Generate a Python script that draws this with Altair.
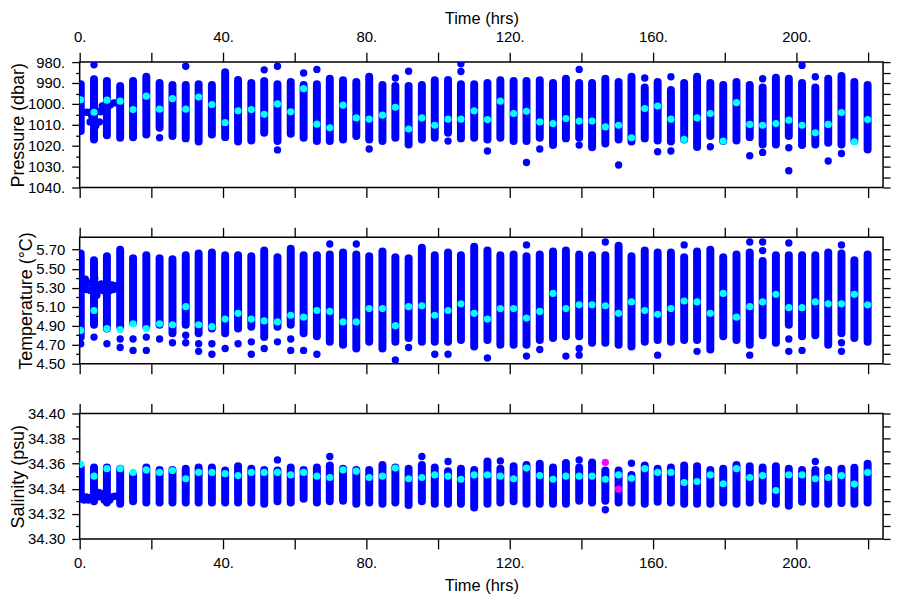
import altair as alt
import pandas as pd

# ---------------- data ----------------
TIME = [0.3, 4.0, 7.6, 11.3, 14.9, 18.6, 22.3, 25.9, 29.6, 33.2, 36.9, 40.6, 44.2, 47.9,
        51.5, 55.2, 58.9, 62.5, 66.2, 69.8, 73.5, 77.2, 80.8, 84.5, 88.1, 91.8, 95.5, 99.1,
        102.8, 106.4, 110.1, 113.8, 117.4, 121.1, 124.7, 128.4, 132.1, 135.7, 139.4, 143.0,
        146.7, 150.4, 154.0, 157.7, 161.3, 165.0, 168.7, 172.3, 176.0, 179.6, 183.3, 187.0,
        190.6, 194.3, 197.9, 201.6, 205.3, 208.9, 212.6, 216.2, 219.9]

# Pressure (dbar): column top, column bottom, cyan point
P_TOP = [990.6, 988.2, 989, 991.4, 989, 987, 990, 991, 991, 990.6, 991, 984.8, 988.6, 990,
         989, 990.6, 989.5, 991, 990.6, 988, 988.7, 989.5, 987, 991, 991.4, 991.4, 991, 988.7,
         988.6, 990.6, 990.6, 990, 988.7, 989, 989, 988.7, 990, 988, 990, 990, 988, 989.5,
         987, 992.2, 989.5, 993.3, 990, 987, 990, 991, 989.5, 991, 992.2, 987.5, 988, 990,
         992.2, 988, 986.7, 989.5, 991]
P_BOT = [1013, 1017, 1015, 1016.2, 1016, 1014.6, 1011.4, 1015.4, 1016.5, 1018, 1014.6, 1015.9,
         1018, 1017.5, 1013.8, 1017.8, 1014.3, 1016.2, 1017.8, 1017.8, 1017, 1015.4, 1017,
         1017.8, 1016.2, 1019.4, 1017, 1016.2, 1013.8, 1016.5, 1016.2, 1017, 1016.2, 1017.8,
         1017.8, 1016.2, 1019.7, 1016.5, 1016.2, 1020.7, 1019, 1017, 1018, 1016.5, 1017.5,
         1018, 1017, 1020.6, 1015.4, 1017.8, 1017.5, 1015.9, 1019.4, 1019.4, 1015.4, 1019.7,
         1019.4, 1018.6, 1019.4, 1017.8, 1021.8]
P_MID = [998, 1004, 998.2, 998.7, 1002.7, 996.3, 1002.5, 997.5, 1002.5, 996.7, 1000.3, 1009,
         1003.3, 1002.7, 1005, 1000, 1003.8, 992.7, 1009.7, 1011.4, 1000.6, 1006.7, 1007.3,
         1005.4, 1001.6, 1012, 1006.7, 1010.2, 1007.3, 1007.3, 1003.3, 1007.5, 998.7, 1004.6,
         1003.5, 1008.6, 1009.4, 1007, 1008.2, 1008.2, 1011, 1010.2, 1016.2, 1002.2, 1001,
         1007.3, 1017, 1006.7, 1004.6, 1017.8, 999.4, 1009.8, 1010.2, 1009.4, 1007.8, 1010.2,
         1013.8, 1009.8, 1004.1, 1018.1, 1007.5]
P_OUT_T = [4.0, 22.3, 29.6, 51.5, 55.2, 55.2, 62.5, 66.2, 80.8, 88.1, 91.8, 102.8, 106.4,
           106.4, 113.8, 124.7, 128.4, 139.4, 139.4, 150.4, 157.7, 161.3, 165.0, 165.0, 176.0,
           187.0, 190.6, 190.6, 197.9, 197.9, 201.6, 205.3, 208.9, 212.6,
           1.9, 2.9, 3.3, 4.8, 5.8, 2.9, 5.5, 6.3, 8.5, 9.5, 10.2, 7.0, 4.5]
P_OUT_V = [981.3, 1016.2, 982, 983.7, 982, 1022, 985.2, 983.5, 1021.6, 987.6, 984.4, 1017.8,
           980.8, 984.5, 1022.5, 1028, 1021.6, 983.5, 1019.7, 1029.2, 987.6, 1022.9, 987,
           1022.5, 1020.5, 1024.8, 988, 1023.2, 1021, 1032, 981.6, 987, 1027.3, 1023.7,
           1004, 1004, 1005.5, 1003.5, 1003.8, 1008.6, 1008.6, 1001, 1000.5, 999.5, 999.5,
           1002, 1010.5]

# Temperature (deg C)
T_TOP = [5.66, 5.59, 5.63, 5.70, 5.61, 5.64, 5.61, 5.60, 5.64, 5.66, 5.67, 5.64, 5.64, 5.63,
         5.69, 5.62, 5.71, 5.64, 5.64, 5.65, 5.67, 5.65, 5.63, 5.68, 5.62, 5.61, 5.72, 5.64,
         5.67, 5.64, 5.73, 5.69, 5.64, 5.65, 5.63, 5.65, 5.68, 5.69, 5.65, 5.64, 5.64, 5.74,
         5.63, 5.69, 5.67, 5.67, 5.62, 5.68, 5.70, 5.62, 5.65, 5.67, 5.58, 5.64, 5.64, 5.64,
         5.64, 5.67, 5.66, 5.59, 5.65]
T_BOT = [4.78, 4.91, 4.87, 4.89, 4.93, 4.89, 4.91, 4.82, 4.91, 4.82, 4.87, 4.82, 4.87, 4.89,
         4.78, 4.89, 4.91, 4.82, 4.79, 4.73, 4.70, 4.66, 4.73, 4.66, 4.73, 4.77, 4.73, 4.73,
         4.73, 4.75, 4.68, 4.75, 4.70, 4.70, 4.70, 4.75, 4.77, 4.79, 4.79, 4.72, 4.72, 4.70,
         4.68, 4.73, 4.75, 4.73, 4.75, 4.75, 4.65, 4.79, 4.75, 4.70, 4.80, 4.72, 4.91, 4.79,
         4.80, 4.70, 4.82, 4.77, 4.73]
T_MID = [4.85, 5.06, 4.87, 4.86, 4.92, 4.87, 4.92, 4.91, 5.10, 4.91, 4.89, 4.97, 5.03, 4.97,
         4.95, 4.94, 5.01, 4.99, 5.06, 5.05, 4.94, 4.94, 5.08, 5.08, 4.90, 5.10, 5.11, 5.01,
         5.06, 5.13, 5.03, 4.97, 5.08, 5.08, 4.98, 5.05, 5.24, 5.08, 5.12, 5.12, 5.11, 5.03,
         5.15, 5.06, 5.02, 5.08, 5.16, 5.15, 5.03, 5.24, 4.99, 5.10, 5.15, 5.23, 5.09, 5.09,
         5.15, 5.13, 5.13, 5.23, 5.12]
T_OUT_T = [0.3, 4.0, 7.6, 11.3, 11.3, 14.9, 14.9, 18.6, 18.6, 22.3, 25.9, 29.6, 29.6, 33.2,
           33.2, 36.9, 36.9, 40.6, 44.2, 47.9, 47.9, 51.5, 55.2, 58.9, 58.9, 62.5, 66.2, 69.8,
           77.2, 88.1, 91.8, 99.1, 102.8, 113.8, 124.7, 124.7, 128.4, 135.7, 139.4, 139.4,
           146.7, 161.3, 168.7, 172.3, 187.0, 187.0, 190.6, 190.6, 197.9, 197.9, 197.9, 201.6,
           212.6, 212.6, 212.6,
           0.8, 1.8, 2.8, 3.6, 5.0, 6.0, 7.0, 8.0, 9.0, 9.8,
           0.8, 2.0, 3.0, 5.4, 6.4, 7.4, 8.4, 9.4,
           0.6, 1.6, 4.2, 4.8]
T_OUT_V = [4.71, 4.78, 4.71, 4.76, 4.67, 4.76, 4.64, 4.78, 4.64, 4.76, 4.72, 4.80, 4.72, 4.71,
           4.63, 4.71, 4.60, 4.66, 4.71, 4.73, 4.60, 4.66, 4.73, 4.76, 4.64, 4.64, 4.60, 5.76,
           5.76, 4.54, 4.67, 4.60, 4.60, 4.56, 5.75, 4.58, 4.65, 4.58, 4.66, 4.59,
           5.78, 4.59, 5.75, 4.63, 5.78, 4.59, 5.78, 5.69, 5.77, 4.76, 4.63, 4.64,
           5.75, 4.72, 4.63,
           5.34, 5.34, 5.35, 5.34, 5.33, 5.34, 5.33, 5.34, 5.33, 5.32,
           5.28, 5.28, 5.27, 5.28, 5.27, 5.28, 5.27, 5.28,
           5.40, 5.39, 5.40, 5.22]

# Salinity (psu)
S_TOP = [34.357, 34.357, 34.357, 34.356, 34.351, 34.357, 34.355, 34.355, 34.356, 34.357,
         34.357, 34.3545, 34.358, 34.356, 34.355, 34.3545, 34.357, 34.355, 34.357, 34.3585,
         34.356, 34.355, 34.355, 34.359, 34.357, 34.356, 34.359, 34.357, 34.354, 34.356,
         34.355, 34.3617, 34.356, 34.358, 34.359, 34.360, 34.357, 34.3606, 34.357, 34.361,
         34.3545, 34.3545, 34.351, 34.3585, 34.356, 34.357, 34.3585, 34.358, 34.355, 34.356,
         34.359, 34.358, 34.357, 34.358, 34.356, 34.355, 34.355, 34.355, 34.356, 34.3567,
         34.360]
S_BOT = [34.332, 34.330, 34.329, 34.328, 34.330, 34.329, 34.329, 34.329, 34.329, 34.329,
         34.329, 34.329, 34.329, 34.329, 34.328, 34.330, 34.329, 34.332, 34.329, 34.330,
         34.3305, 34.328, 34.329, 34.328, 34.329, 34.327, 34.330, 34.328, 34.328, 34.328,
         34.325, 34.328, 34.329, 34.330, 34.328, 34.328, 34.328, 34.328, 34.3305, 34.329,
         34.3305, 34.329, 34.329, 34.328, 34.3297, 34.329, 34.328, 34.328, 34.328, 34.329,
         34.328, 34.329, 34.3305, 34.328, 34.3265, 34.3297, 34.328, 34.328, 34.3286, 34.328,
         34.329]
S_MID = [34.3595, 34.350, 34.356, 34.356, 34.353, 34.355, 34.353, 34.3545, 34.348, 34.353,
         34.353, 34.352, 34.3505, 34.353, 34.353, 34.353, 34.351, 34.353, 34.350, 34.349,
         34.355, 34.354, 34.349, 34.350, 34.3565, 34.348, 34.349, 34.351, 34.350, 34.3476,
         34.351, 34.351, 34.350, 34.348, 34.3565, 34.3505, 34.3476, 34.350, 34.350, 34.350,
         34.3476, 34.351, 34.3484, 34.356, 34.353, 34.353, 34.345, 34.3458, 34.351, 34.344,
         34.356, 34.349, 34.3505, 34.3386, 34.351, 34.351, 34.348, 34.349, 34.3505, 34.3437,
         34.353]
S_OUT_T = [55.2, 69.8, 95.5, 102.8, 117.4, 139.4, 146.7, 154.0, 205.3,
           0.8, 1.8, 2.8, 3.6, 5.0, 6.0, 7.0, 8.0, 9.0, 9.8,
           1.2, 2.4, 5.2, 5.8, 6.8, 8.4]
S_OUT_V = [34.363, 34.3657, 34.3657, 34.3617, 34.3622, 34.363, 34.3233, 34.3603, 34.3617,
           34.3335, 34.3335, 34.333, 34.3335, 34.3335, 34.334, 34.3335, 34.333, 34.3335, 34.334,
           34.331, 34.331, 34.337, 34.3365, 34.331, 34.331]
S_MAG_T = [146.7, 150.4]
S_MAG_V = [34.361, 34.3397]

# axis tick values and labels
X_DOMAIN = [0, 224.2]
X_TICKS = [0, 20, 40, 60, 80, 100, 120, 140, 160, 180, 200, 220]
P_MAJOR = [980, 990, 1000, 1010, 1020, 1030, 1040]
P_MINOR = [985, 995, 1005, 1015, 1025, 1035]
P_RIGHT = [980, 985, 990, 995, 1000, 1005, 1010, 1015, 1020, 1025, 1030, 1035, 1040]
T_MAJOR = [4.5, 4.7, 4.9, 5.1, 5.3, 5.5, 5.7]
T_MINOR = [4.6, 4.8, 5.0, 5.2, 5.4, 5.6]
T_RIGHT = [4.5, 4.6, 4.7, 4.8, 4.9, 5.0, 5.1, 5.2, 5.3, 5.4, 5.5, 5.6, 5.7]
S_MAJOR = [34.30, 34.32, 34.34, 34.36, 34.38, 34.40]
S_MINOR = [34.31, 34.33, 34.35, 34.37, 34.39]
S_RIGHT = [34.30, 34.31, 34.32, 34.33, 34.34, 34.35, 34.36, 34.37, 34.38, 34.39, 34.40]

BLUE = "#0000FF"
CYAN = "#00FFFF"
MAGENTA = "#FF00FF"
FONT = "Liberation Sans"
XLAB = "datum.value % 40 === 0 ? format(datum.value, 'd') + '.' : ''"
WIDTH = 807


def panel(top, bot, mid, out_t, out_v, ydom, yrev, ymaj, ymin, yright, ylab, ytitle,
          top_labels, bottom_labels, height, mag_t=None, mag_v=None):
    df = pd.DataFrame({"t": TIME, "lo": top, "hi": bot, "mid": mid})
    od = pd.DataFrame({"t": out_t, "v": out_v})
    xsc = alt.Scale(domain=X_DOMAIN, nice=False, zero=False)
    ysc = alt.Scale(domain=ydom, reverse=yrev, nice=False, zero=False)

    x_bottom = alt.Axis(orient="bottom", values=X_TICKS, tickSize=10, labels=bottom_labels,
                        labelExpr=XLAB, labelPadding=7,
                        title=("Time (hrs)" if bottom_labels else None),
                        titlePadding=7, titleFontSize=16.5)
    x_top = alt.Axis(orient="top", values=X_TICKS, tickSize=10, labels=top_labels,
                     labelExpr=XLAB, labelPadding=8,
                     title=("Time (hrs)" if top_labels else None),
                     titlePadding=3, titleFontSize=16.5)
    y_major = alt.Axis(orient="left", values=ymaj, tickSize=8, labelExpr=ylab,
                       labelPadding=7, title=ytitle, titlePadding=0, titleFontSize=18)
    y_minor = alt.Axis(orient="left", values=ymin, tickSize=4, labels=False, title=None)
    y_right = alt.Axis(orient="right", values=yright, tickSize=7, labels=False, title=None)

    rules = alt.Chart(df).mark_rule(strokeWidth=8, strokeCap="round", color=BLUE,
                                    clip=True).encode(
        x=alt.X("t:Q", scale=xsc, axis=x_bottom),
        y=alt.Y("lo:Q", scale=ysc, axis=y_major),
        y2="hi:Q",
    )
    outl = alt.Chart(od).mark_circle(size=55, color=BLUE, opacity=1, clip=True).encode(
        x=alt.X("t:Q", scale=xsc, axis=x_top),
        y=alt.Y("v:Q", scale=ysc, axis=y_minor),
    )
    cyan = alt.Chart(df).mark_circle(size=52, color=CYAN, opacity=1, clip=True).encode(
        x=alt.X("t:Q", scale=xsc, axis=None),
        y=alt.Y("mid:Q", scale=ysc, axis=y_right),
    )
    layers = [rules, outl, cyan]
    if mag_t is not None:
        md = pd.DataFrame({"t": mag_t, "v": mag_v})
        layers.append(alt.Chart(md).mark_circle(size=52, color=MAGENTA, opacity=1,
                                                clip=True).encode(
            x=alt.X("t:Q", scale=xsc, axis=None),
            y=alt.Y("v:Q", scale=ysc, axis=None),
        ))
    return alt.layer(*layers).resolve_axis(x="independent", y="independent").properties(
        width=WIDTH, height=height)


p1 = panel(P_TOP, P_BOT, P_MID, P_OUT_T, P_OUT_V, [980, 1040], True, P_MAJOR, P_MINOR,
           P_RIGHT, "format(datum.value, 'd') + '.'", "Pressure (dbar)", True, False, 126)
p2 = panel(T_TOP, T_BOT, T_MID, T_OUT_T, T_OUT_V, [4.5, 5.83], False, T_MAJOR, T_MINOR,
           T_RIGHT, "format(datum.value, '.2f')", "Temperature (°C)", False, False, 127)
p3 = panel(S_TOP, S_BOT, S_MID, S_OUT_T, S_OUT_V, [34.30, 34.40], False, S_MAJOR, S_MINOR,
           S_RIGHT, "format(datum.value, '.2f')", "Salinity (psu)", False, True, 126,
           S_MAG_T, S_MAG_V)

chart = alt.vconcat(p1, p2, p3, spacing=26).properties(padding=0).configure_view(
    stroke="black", strokeWidth=1.5
).configure_axis(
    grid=False, domain=False, labelFont=FONT, titleFont=FONT, labelFontSize=15,
    labelColor="black", titleColor="black", titleFontWeight="normal",
    tickColor="black", tickWidth=1.3, labelFlush=False, labelOverlap=False,
)

chart.save("out.html", embed_options={"renderer": "svg", "actions": False})
